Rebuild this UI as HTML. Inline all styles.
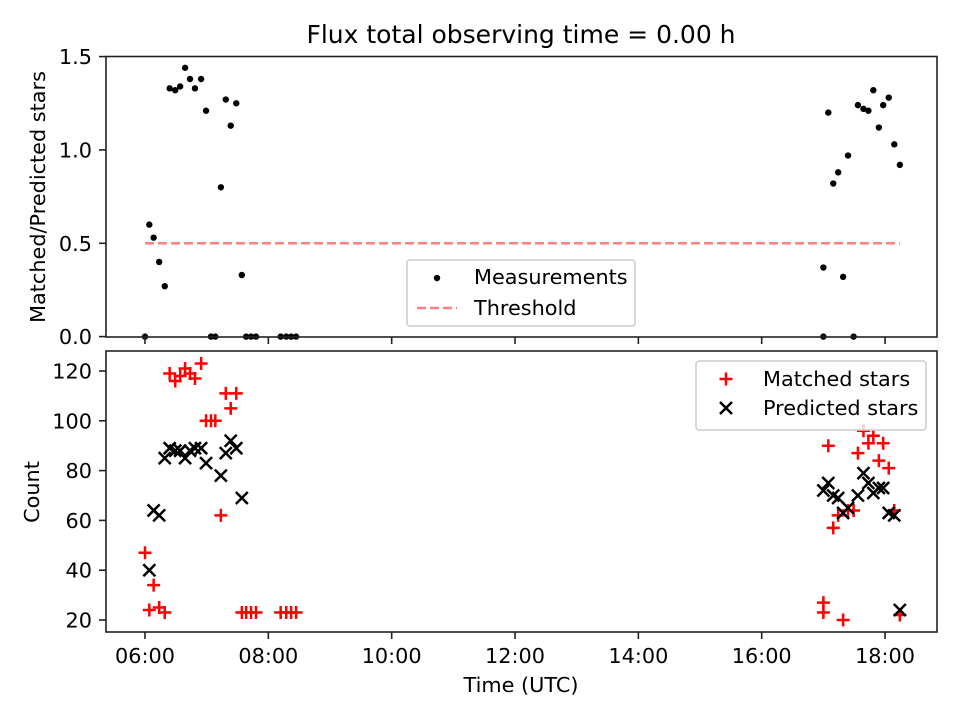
<!DOCTYPE html>
<html><head><meta charset="utf-8"><style>body{margin:0;background:#fff}svg{display:block;font-family:"DejaVu Sans","Liberation Sans",sans-serif}</style></head>
<body>
<svg id="c" width="960" height="720" viewBox="0 0 960 720"></svg>
<script>
const mTimes=[6.0,6.07,6.14,6.23,6.32,6.40,6.49,6.57,6.65,6.73,6.81,6.91,6.99,7.07,7.14,7.23,7.31,7.39,7.48,7.57,7.64,7.72,7.80,8.20,8.29,8.37,8.45,17.0,17.0,17.08,17.16,17.24,17.32,17.40,17.49,17.56,17.65,17.73,17.81,17.90,17.97,18.06,18.15,18.24];
const ratios=[0,0.60,0.53,0.40,0.27,1.33,1.32,1.34,1.44,1.38,1.33,1.38,1.21,0,0,0.80,1.27,1.13,1.25,0.33,0,0,0,0,0,0,0,0.37,0,1.20,0.82,0.88,0.32,0.97,0,1.24,1.22,1.21,1.32,1.12,1.24,1.28,1.03,0.92];
const matchedTimes=[6.0,6.07,6.14,6.23,6.32,6.40,6.49,6.57,6.65,6.73,6.81,6.91,6.99,7.07,7.14,7.23,7.31,7.39,7.48,7.57,7.64,7.72,7.80,8.20,8.29,8.37,8.45,17.0,17.0,17.08,17.16,17.24,17.32,17.40,17.49,17.56,17.65,17.73,17.81,17.90,17.97,18.06,18.15,18.24];
const matched=[47,24,34,25,23,119,116,118,121,119,117,123,100,100,100,62,111,105,111,23,23,23,23,23,23,23,23,23,27,90,57,62,20,64,64,87,96,91,94,84,91,81,64,22];
const predTimes=[6.07,6.14,6.23,6.32,6.40,6.49,6.57,6.65,6.73,6.81,6.91,6.99,7.23,7.31,7.39,7.48,7.57,17.0,17.08,17.16,17.24,17.32,17.40,17.56,17.65,17.73,17.81,17.90,17.97,18.06,18.15,18.24];
const predicted=[40,64,62,85,89,88,88,85,88,89,89,83,78,87,92,89,69,72,75,70,69,63,65,70,79,75,71,73,73,63,62,24];
const xTicks=[6,8,10,12,14,16,18];
const xTickLabels=["06:00","08:00","10:00","12:00","14:00","16:00","18:00"];
const topTicks=[0,0.5,1.0,1.5];
const topTickLabels=["0.0","0.5","1.0","1.5"];
const botTicks=[20,40,60,80,100,120];
const threshold=0.5;

const svg=document.getElementById('c');const NS='http://www.w3.org/2000/svg';
function el(t,a,p){const e=document.createElementNS(NS,t);for(const k in a)e.setAttribute(k,a[k]);(p||svg).appendChild(e);return e;}
const L=106,R=937,T1=56.5,B1=337,T2=351,B2=632;
const FS=20.8;
const xs=t=>145+(t-6)*61.67;
const y1=v=>336.6-v*186.67;
const y2=v=>620-(v-20)*2.49;
let e;
e=el('text',{x:521,y:43,'font-size':25,'text-anchor':'middle'});e.textContent='Flux total observing time = 0.00 h';

e=el('line',{x1:xs(6),x2:xs(18.24),y1:y1(threshold),y2:y1(threshold),stroke:'#ff7f7f','stroke-width':2.5,'stroke-dasharray':'9,4'});

mTimes.forEach((t,i)=>{const c=el('circle',{cx:xs(t),cy:y1(ratios[i]),r:3.2,fill:'#000'});
});
matchedTimes.forEach((t,i)=>{const x=xs(t),y=y2(matched[i]);const p=el('path',{d:`M${x-6.5},${y}H${x+6.5}M${x},${y-6.5}V${y+6.5}`,stroke:'red','stroke-width':2.5});
});
predTimes.forEach((t,i)=>{const x=xs(t),y=y2(predicted[i]);const p=el('path',{d:`M${x-6},${y-6}L${x+6},${y+6}M${x-6},${y+6}L${x+6},${y-6}`,stroke:'#000','stroke-width':2.5});
});
e=el('rect',{x:L,y:T1,width:R-L,height:B1-T1,fill:'none',stroke:'#222','stroke-width':1.6});
e=el('rect',{x:L,y:T2,width:R-L,height:B2-T2,fill:'none',stroke:'#222','stroke-width':1.6});
xTicks.forEach((t,i)=>{const x=xs(t);el('line',{x1:x,x2:x,y1:B1,y2:B1+7,stroke:'#222','stroke-width':1.6});el('line',{x1:x,x2:x,y1:B2,y2:B2+7,stroke:'#222','stroke-width':1.6});
const tx=el('text',{x:x,y:663,'font-size':FS,'text-anchor':'middle'});tx.textContent=xTickLabels[i];
});
topTicks.forEach((v,i)=>{const y=y1(v);el('line',{x1:L-7,x2:L,y1:y,y2:y,stroke:'#222','stroke-width':1.6});
const tx=el('text',{x:L-14,y:y+7.5,'font-size':FS,'text-anchor':'end'});tx.textContent=topTickLabels[i];
});
botTicks.forEach(v=>{const y=y2(v);el('line',{x1:L-7,x2:L,y1:y,y2:y,stroke:'#222','stroke-width':1.6});
const tx=el('text',{x:L-14,y:y+7.5,'font-size':FS,'text-anchor':'end'});tx.textContent=v;
});
e=el('text',{x:521,y:692,'font-size':FS,'text-anchor':'middle'});e.textContent='Time (UTC)';
e=el('text',{x:45,y:197,'font-size':FS,'text-anchor':'middle',transform:'rotate(-90 45 197)'});e.textContent='Matched/Predicted stars';
e=el('text',{x:39,y:492,'font-size':FS,'text-anchor':'middle',transform:'rotate(-90 39 492)'});e.textContent='Count';
let g=el('g',{});
el('rect',{x:407,y:260,width:228,height:66,rx:3,fill:'#fff','fill-opacity':0.8,stroke:'#ccc','stroke-width':1.5},g);
el('circle',{cx:437,cy:278,r:3.2,fill:'#000'},g);
e=el('text',{x:474,y:284,'font-size':FS},g);e.textContent='Measurements';
el('line',{x1:417,x2:457,y1:308,y2:308,stroke:'#ff7f7f','stroke-width':2.5,'stroke-dasharray':'9,4'},g);
e=el('text',{x:474,y:315,'font-size':FS},g);e.textContent='Threshold';
g=el('g',{});
el('rect',{x:696,y:361,width:230,height:69,rx:3,fill:'#fff','fill-opacity':0.8,stroke:'#ccc','stroke-width':1.5},g);
el('path',{d:'M719.5,379H732.5M726,372.5V385.5',stroke:'red','stroke-width':2.5},g);
e=el('text',{x:763,y:386,'font-size':FS},g);e.textContent='Matched stars';
el('path',{d:'M720,402L732,414M720,414L732,402',stroke:'#000','stroke-width':2.5},g);
e=el('text',{x:763,y:415,'font-size':FS},g);e.textContent='Predicted stars';
</script>
</body></html>
